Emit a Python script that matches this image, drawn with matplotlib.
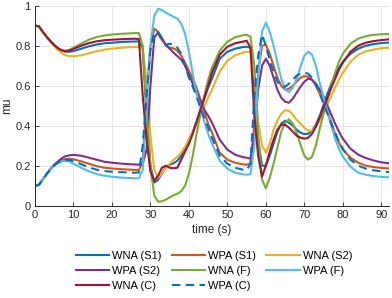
import matplotlib
matplotlib.use("Agg")
import matplotlib.pyplot as plt

plt.rcParams['font.family'] = ['Liberation Sans', 'DejaVu Sans']

t = [0, 1, 2, 3, 4, 5, 6, 7, 8, 9, 10,
     12, 14, 16, 18, 20, 22, 24, 26,
     27, 28, 29, 30, 31, 32, 33, 34, 35, 36, 37, 38, 39, 40, 41, 42, 43, 44, 45, 46,
     48, 50, 52, 54,
     55, 56, 57, 58, 59, 60, 61, 62, 63, 64, 65, 66, 67, 68, 69, 70, 71, 72, 73, 74, 75, 76, 77, 78, 79, 80,
     82, 84, 86, 88, 90, 92]

wna_s1 = [0.9, 0.897, 0.87, 0.845, 0.823, 0.803, 0.787, 0.776, 0.77, 0.77, 0.773,
          0.785, 0.797, 0.806, 0.812, 0.815, 0.818, 0.82, 0.821,
          0.822, 0.78, 0.45, 0.2, 0.115, 0.13, 0.16, 0.195, 0.205, 0.212, 0.225, 0.25, 0.29, 0.33, 0.37, 0.42, 0.48, 0.535, 0.59, 0.635,
          0.735, 0.77, 0.785, 0.793,
          0.795, 0.79, 0.6, 0.33, 0.2, 0.2, 0.25, 0.31, 0.37, 0.41, 0.425, 0.415, 0.4, 0.38, 0.365, 0.358, 0.36, 0.375, 0.405, 0.45, 0.505, 0.56, 0.61, 0.655, 0.69, 0.72,
          0.76, 0.785, 0.8, 0.808, 0.813, 0.816]

wpa_s1 = [0.1, 0.104, 0.13, 0.158, 0.182, 0.203, 0.218, 0.228, 0.233, 0.235, 0.232,
          0.222, 0.21, 0.198, 0.19, 0.186, 0.183, 0.181, 0.179,
          0.178, 0.22, 0.55, 0.8, 0.885, 0.87, 0.84, 0.8, 0.79, 0.787, 0.775, 0.75, 0.715, 0.675, 0.635, 0.59, 0.53, 0.47, 0.41, 0.365,
          0.265, 0.23, 0.215, 0.207,
          0.205, 0.21, 0.4, 0.67, 0.8, 0.805, 0.76, 0.7, 0.64, 0.6, 0.58, 0.585, 0.6, 0.62, 0.64, 0.648, 0.645, 0.63, 0.6, 0.56, 0.52, 0.47, 0.415, 0.36, 0.315, 0.28,
          0.24, 0.215, 0.2, 0.193, 0.189, 0.186]

wna_s2 = [0.9, 0.897, 0.87, 0.845, 0.82, 0.798, 0.778, 0.762, 0.752, 0.748, 0.747,
          0.752, 0.762, 0.772, 0.78, 0.785, 0.789, 0.792, 0.794,
          0.795, 0.785, 0.62, 0.35, 0.18, 0.14, 0.16, 0.19, 0.21, 0.228, 0.245, 0.265, 0.295, 0.33, 0.37, 0.41, 0.45, 0.495, 0.54, 0.58,
          0.67, 0.725, 0.752, 0.765,
          0.77, 0.77, 0.65, 0.42, 0.3, 0.265, 0.31, 0.38, 0.425, 0.46, 0.478, 0.475, 0.455, 0.43, 0.41, 0.39, 0.375, 0.375, 0.395, 0.425, 0.46, 0.505, 0.55, 0.59, 0.63, 0.665,
          0.72, 0.755, 0.772, 0.781, 0.787, 0.79]

wpa_s2 = [0.1, 0.104, 0.13, 0.158, 0.183, 0.205, 0.222, 0.238, 0.248, 0.252, 0.254,
          0.25, 0.24, 0.23, 0.22, 0.215, 0.211, 0.208, 0.206,
          0.205, 0.21, 0.28, 0.6, 0.84, 0.865, 0.83, 0.805, 0.785, 0.765, 0.748, 0.73, 0.7, 0.655, 0.61, 0.565, 0.52, 0.48, 0.45, 0.415,
          0.33, 0.28, 0.255, 0.243,
          0.24, 0.235, 0.35, 0.58, 0.7, 0.735, 0.7, 0.64, 0.58, 0.54, 0.52, 0.515, 0.535, 0.565, 0.595, 0.62, 0.635, 0.63, 0.61, 0.58, 0.545, 0.5, 0.455, 0.41, 0.37, 0.335,
          0.285, 0.255, 0.238, 0.226, 0.217, 0.212]

wna_f = [0.9, 0.897, 0.87, 0.845, 0.823, 0.803, 0.787, 0.777, 0.775, 0.78, 0.79,
         0.81, 0.83, 0.843, 0.851, 0.856, 0.859, 0.861, 0.863,
         0.863, 0.8, 0.48, 0.2, 0.05, 0.02, 0.022, 0.03, 0.042, 0.052, 0.06, 0.072, 0.1, 0.16, 0.25, 0.36, 0.46, 0.55, 0.63, 0.69,
         0.775, 0.82, 0.842, 0.852,
         0.855, 0.845, 0.7, 0.35, 0.13, 0.087, 0.14, 0.21, 0.29, 0.37, 0.415, 0.432, 0.41, 0.365, 0.305, 0.25, 0.23, 0.245, 0.3, 0.385, 0.46, 0.53, 0.6, 0.665, 0.72, 0.76,
         0.81, 0.835, 0.848, 0.854, 0.857, 0.859]

wpa_f = [0.1, 0.104, 0.13, 0.158, 0.18, 0.2, 0.214, 0.222, 0.224, 0.22, 0.21,
         0.19, 0.172, 0.158, 0.15, 0.145, 0.141, 0.139, 0.137,
         0.137, 0.18, 0.5, 0.8, 0.95, 0.985, 0.978, 0.965, 0.955, 0.945, 0.935, 0.91, 0.86, 0.77, 0.66, 0.56, 0.49, 0.42, 0.36, 0.31,
         0.225, 0.185, 0.165, 0.157,
         0.155, 0.157, 0.3, 0.65, 0.87, 0.915, 0.87, 0.8, 0.715, 0.635, 0.585, 0.568, 0.59, 0.635, 0.695, 0.75, 0.77, 0.755, 0.7, 0.615, 0.54, 0.47, 0.4, 0.335, 0.285, 0.245,
         0.195, 0.165, 0.155, 0.148, 0.144, 0.142]

wna_c = [0.9, 0.897, 0.87, 0.845, 0.823, 0.803, 0.787, 0.776, 0.772, 0.776, 0.784,
         0.8, 0.813, 0.822, 0.827, 0.83, 0.832, 0.834, 0.835,
         0.833, 0.55, 0.33, 0.17, 0.125, 0.15, 0.19, 0.2, 0.19, 0.187, 0.19, 0.23, 0.27, 0.31, 0.36, 0.42, 0.48, 0.54, 0.6, 0.665,
         0.755, 0.795, 0.812, 0.82,
         0.825, 0.79, 0.45, 0.25, 0.145, 0.2, 0.27, 0.33, 0.38, 0.405, 0.405, 0.39, 0.37, 0.35, 0.34, 0.335, 0.34, 0.36, 0.395, 0.44, 0.49, 0.54, 0.59, 0.635, 0.68, 0.715,
         0.77, 0.8, 0.815, 0.823, 0.828, 0.832]

wpa_c = [0.1, 0.104, 0.13, 0.158, 0.182, 0.202, 0.216, 0.226, 0.23, 0.228, 0.222,
         0.208, 0.192, 0.18, 0.173, 0.17, 0.168, 0.166, 0.165,
         0.166, 0.3, 0.55, 0.78, 0.87, 0.865, 0.825, 0.805, 0.81, 0.805, 0.79, 0.76, 0.7, 0.64, 0.595, 0.545, 0.49, 0.44, 0.39, 0.34,
         0.25, 0.21, 0.19, 0.18,
         0.177, 0.21, 0.55, 0.75, 0.855, 0.8, 0.73, 0.67, 0.62, 0.595, 0.595, 0.61, 0.63, 0.65, 0.66, 0.665, 0.66, 0.64, 0.605, 0.56, 0.51, 0.46, 0.41, 0.365, 0.32, 0.285,
         0.23, 0.2, 0.185, 0.177, 0.172, 0.168]

labels = ["WNA (S1)", "WPA (S1)", "WNA (S2)", "WPA (S2)", "WNA (F)", "WPA (F)", "WNA (C)", "WPA (C)"]
series = [wna_s1, wpa_s1, wna_s2, wpa_s2, wna_f, wpa_f, wna_c, wpa_c]
colors = ["#0072BD", "#D95319", "#EDB120", "#7E2F8E", "#77AC30", "#4DBEEE", "#A2142F", "#0072BD"]
styles = ["-", "-", "-", "-", "-", "-", "-", (0, (4, 2.6))]

xticks = [0, 10, 20, 30, 40, 50, 60, 70, 80, 90]
yticks = [0, 0.2, 0.4, 0.6, 0.8, 1]
ytick_labels = ["0", "0.2", "0.4", "0.6", "0.8", "1"]

fig = plt.figure(figsize=(3.92, 2.98), dpi=100)
ax = fig.add_axes([35 / 392, 1 - 205.7 / 298, (389 - 35) / 392, (205.7 - 5.7) / 298])

handles = []
for y, c, ls, lab in zip(series, colors, styles, labels):
    h, = ax.plot(t, y, color=c, linestyle=ls, linewidth=1.5, label=lab)
    handles.append(h)

dark = (0.15, 0.15, 0.15)
ax.set_xlim(0, 92)
ax.set_ylim(0, 1)
ax.set_xticks(xticks)
ax.set_yticks(yticks)
ax.set_yticklabels(ytick_labels)
ax.grid(True, color=(0.88, 0.88, 0.88), linewidth=0.6)
ax.set_axisbelow(True)
for s in ["top", "right"]:
    ax.spines[s].set_visible(False)
for s in ["left", "bottom"]:
    ax.spines[s].set_color(dark)
    ax.spines[s].set_linewidth(0.7)
ax.tick_params(direction="in", length=3, width=0.6, color=dark, labelcolor=dark, labelsize=8, pad=3)
ax.set_xlabel("time (s)", fontsize=8.5, color=dark, labelpad=3)
ax.set_ylabel("mu", fontsize=8.5, color=dark, labelpad=2)

# row-wise legend order (matplotlib fills columns first)
order = [0, 3, 6, 1, 4, 7, 2, 5]
fig.legend([handles[i] for i in order], [labels[i] for i in order],
           loc="upper center", bbox_to_anchor=(214 / 392, 1 - 251 / 298), ncol=3, frameon=False,
           fontsize=8, handlelength=3.0, handletextpad=0.3, columnspacing=0.9, labelspacing=0.45,
           borderaxespad=0, borderpad=0)

fig.savefig("out.png", dpi=100)
